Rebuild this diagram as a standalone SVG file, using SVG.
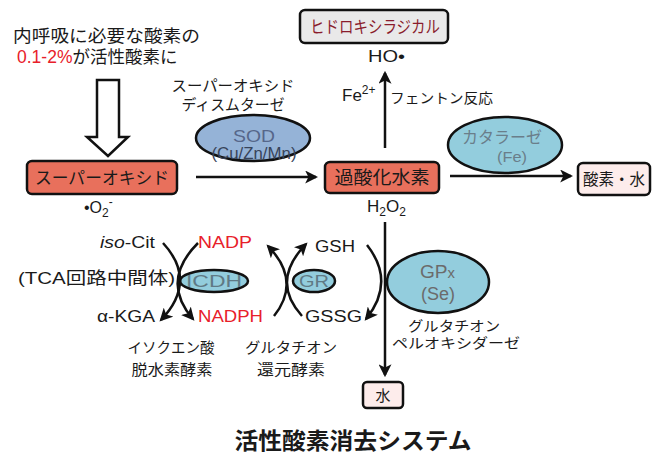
<svg xmlns="http://www.w3.org/2000/svg" width="656" height="455" viewBox="0 0 656 455">
<style>
text{font-family:"Liberation Sans","Noto Sans CJK JP",sans-serif;fill:#1a1a1a;}
.c{text-anchor:middle;}
.red{fill:#e8202a;}
.box{stroke:#111;stroke-width:2.5;}
.ell{stroke:#111;stroke-width:2.5;}
.ln{fill:none;stroke:#111;stroke-width:2.5;}
.en{fill:#5f7a85;}
</style>
<defs>
<marker id="ah" viewBox="0 0 12 12" refX="10" refY="6" markerWidth="13" markerHeight="13" markerUnits="userSpaceOnUse" orient="auto">
<path d="M0,0 L12,6 L0,12 L3,6 z" fill="#111"/>
</marker>
</defs>
<g id="intro">
<text x="13" y="42" font-size="17.5" textLength="187" lengthAdjust="spacingAndGlyphs">内呼吸に必要な酸素の</text>
<text x="17" y="63" font-size="17.5"><tspan class="red">0.1-2%</tspan><tspan>が活性酸素に</tspan></text>
<polygon points="97,80 119,80 119,137 128,137 108,156 87,137 97,137" fill="#fff" stroke="#111" stroke-width="2.5" stroke-linejoin="miter"/>
</g>
<g id="superoxide">
<rect class="box" x="27" y="161" width="150" height="33" rx="5" fill="#e8705c"/>
<text class="c" x="102" y="184" font-size="17" textLength="134" lengthAdjust="spacingAndGlyphs">スーパーオキシド</text>
<text x="84" y="213" font-size="16">•O<tspan dy="4" font-size="12">2</tspan><tspan dy="-11" font-size="12">-</tspan></text>
</g>
<g id="sod">
<text class="c" x="233" y="91" font-size="15" textLength="123" lengthAdjust="spacingAndGlyphs">スーパーオキシド</text>
<text class="c" x="233" y="110" font-size="15" textLength="103" lengthAdjust="spacingAndGlyphs">ディスムターゼ</text>
<ellipse class="ell" cx="253" cy="138" rx="57" ry="23" fill="#95b3d7"/>
<text class="c" x="254" y="142" font-size="16.5" textLength="42" lengthAdjust="spacingAndGlyphs" style="fill:#56678a">SOD</text>
<text class="c" x="254" y="159" font-size="16.5" textLength="85" lengthAdjust="spacingAndGlyphs" style="fill:#38445a">(Cu/Zn/Mn)</text>
</g>
<g id="h2o2">
<rect class="box" x="325" y="162" width="114" height="31" rx="5" fill="#e8705c"/>
<text class="c" x="382" y="184" font-size="18" textLength="95" lengthAdjust="spacingAndGlyphs">過酸化水素</text>
<text x="367" y="212" font-size="17">H<tspan dy="4" font-size="12">2</tspan><tspan dy="-4">O</tspan><tspan dy="4" font-size="12">2</tspan></text>
</g>
<g id="hydroxyl">
<rect class="box" x="300" y="10" width="148" height="33" rx="5" fill="#e9e9e9"/>
<text class="c" x="375" y="33" font-size="17" textLength="130" lengthAdjust="spacingAndGlyphs" style="fill:#8a1c2c">ヒドロキシラジカル</text>
<text x="368" y="62" font-size="17" textLength="37" lengthAdjust="spacingAndGlyphs">HO•</text>
<text x="342" y="101" font-size="17">Fe<tspan dy="-7" font-size="12">2+</tspan></text>
<text x="390" y="103" font-size="14" textLength="103" lengthAdjust="spacingAndGlyphs">フェントン反応</text>
</g>
<g id="catalase">
<ellipse class="ell" cx="505" cy="145" rx="57" ry="28" fill="#93cddd"/>
<text class="c" x="502" y="143" font-size="16" textLength="80" lengthAdjust="spacingAndGlyphs" style="fill:#6a7e8a">カタラーゼ</text>
<text class="c" x="512" y="162" font-size="15" textLength="30" lengthAdjust="spacingAndGlyphs" style="fill:#6a7e8a">(Fe)</text>
</g>
<g id="o2water">
<rect class="box" x="578" y="163" width="72" height="32" rx="5" fill="#fdeceb"/>
<text class="c" x="614" y="185" font-size="16" textLength="62" lengthAdjust="spacingAndGlyphs">酸素・水</text>
</g>
<g id="gpx">
<ellipse class="ell" cx="438" cy="282" rx="51" ry="31" fill="#93cddd"/>
<text x="420" y="278" font-size="18" textLength="35" lengthAdjust="spacingAndGlyphs" style="fill:#6b6b6b">GP<tspan font-size="14">x</tspan></text>
<text x="421" y="300" font-size="18" textLength="34" lengthAdjust="spacingAndGlyphs" style="fill:#6b6b6b">(Se)</text>
<text class="c" x="454" y="331" font-size="14" textLength="92" lengthAdjust="spacingAndGlyphs">グルタチオン</text>
<text class="c" x="456" y="348" font-size="14" textLength="128" lengthAdjust="spacingAndGlyphs">ペルオキシダーゼ</text>
</g>
<g id="water">
<rect class="box" x="363" y="382" width="40" height="26" rx="4" fill="#fdeceb"/>
<text class="c" x="383" y="401" font-size="15">水</text>
</g>
<g id="gr">
<ellipse class="ell" cx="314" cy="281" rx="21" ry="11" fill="#93cddd"/>
<text class="c en" x="314" y="287" font-size="17" textLength="30" lengthAdjust="spacingAndGlyphs">GR</text>
<text x="315" y="252" font-size="16" textLength="40" lengthAdjust="spacingAndGlyphs">GSH</text>
<text x="305" y="322" font-size="16" textLength="57" lengthAdjust="spacingAndGlyphs">GSSG</text>
</g>
<g id="icdh">
<ellipse class="ell" cx="214" cy="281" rx="34" ry="11" fill="#93cddd"/>
<text class="c en" x="214" y="287" font-size="17" textLength="56" lengthAdjust="spacingAndGlyphs">ICDH</text>
<text x="100" y="248" font-size="16" textLength="55" lengthAdjust="spacingAndGlyphs"><tspan font-style="italic">iso</tspan>-Cit</text>
<text x="18" y="284" font-size="17" textLength="157" lengthAdjust="spacingAndGlyphs">(TCA回路中間体)</text>
<text x="97" y="322" font-size="16" textLength="58" lengthAdjust="spacingAndGlyphs">α-KGA</text>
<text class="red" x="198" y="248" font-size="16" textLength="54" lengthAdjust="spacingAndGlyphs">NADP</text>
<text class="red" x="198" y="322" font-size="16" textLength="65" lengthAdjust="spacingAndGlyphs">NADPH</text>
<text class="c" x="171" y="353" font-size="14.5" textLength="87" lengthAdjust="spacingAndGlyphs">イソクエン酸</text>
<text class="c" x="172" y="375" font-size="14.5" textLength="81" lengthAdjust="spacingAndGlyphs">脱水素酵素</text>
<text class="c" x="291" y="353" font-size="14.5" textLength="92" lengthAdjust="spacingAndGlyphs">グルタチオン</text>
<text class="c" x="291" y="375" font-size="14.5" textLength="68" lengthAdjust="spacingAndGlyphs">還元酵素</text>
</g>
<g id="connectors">
<line class="ln" x1="196" y1="177" x2="316" y2="177" marker-end="url(#ah)"/>
<line class="ln" x1="385" y1="148" x2="385" y2="73" marker-end="url(#ah)"/>
<line class="ln" x1="450" y1="176" x2="571" y2="176" marker-end="url(#ah)"/>
<line class="ln" x1="385" y1="222" x2="385" y2="375" marker-end="url(#ah)"/>
<path class="ln" d="M367,245 Q396,282 366,319" marker-end="url(#ah)"/>
<path class="ln" d="M274,316 Q302,281 268,246" marker-end="url(#ah)"/>
<path class="ln" d="M302,316 Q270,281 306,244" marker-end="url(#ah)"/>
<path class="ln" d="M163,243 Q198,281 161,320" marker-end="url(#ah)"/>
<path class="ln" d="M198,243 Q160,281 193,319" marker-end="url(#ah)"/>
</g>
<g id="title">
<text class="c" x="353" y="449" font-size="23" font-weight="bold" textLength="237" lengthAdjust="spacingAndGlyphs">活性酸素消去システム</text>
</g>
</svg>
